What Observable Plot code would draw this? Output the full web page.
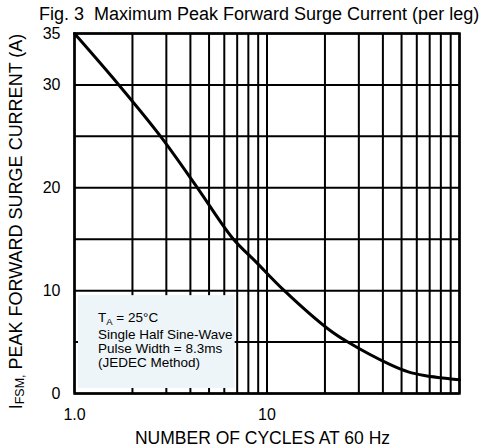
<!DOCTYPE html>
<html><head><meta charset="utf-8">
<script src="https://cdn.jsdelivr.net/npm/d3@7"></script>
<script src="https://cdn.jsdelivr.net/npm/@observablehq/plot@0.6"></script>
<style>body{margin:0;background:#fff;} svg{font-family:"Liberation Sans",Arial,sans-serif;}</style>
</head><body><div id="chart"></div>
<script>
const titleText = "Fig. 3  Maximum Peak Forward Surge Current (per leg)";
const xLabelText = "NUMBER OF CYCLES AT 60 Hz";
const cycles  = [1, 1.7, 2.8, 4.35, 6.63, 8.76, 12.3, 20.7, 26.3, 43.7, 54.2, 65.7, 100];
const current = [35, 30, 25, 20, 15.1, 12.8, 10, 6.3, 5, 2.8, 2.1, 1.75, 1.33];
const xGrid = [1, 2, 3, 4, 5, 6, 7, 8, 9, 10, 20, 30, 40, 50, 60, 70, 80, 90, 100];
const yGrid = [0, 5, 10, 15, 20, 25, 30, 35];
const xTicks = [1, 10];
const xTickLabels = ["1.0", "10"];
const yTicks = [0, 10, 20, 30, 35];
const noteBox = [{x1: 1, x2: 7, y1: 0, y2: 10}];
const noteLines = ["Single Half Sine-Wave", "Pulse Width = 8.3ms", "(JEDEC Method)"];

const data = cycles.map((c, i) => ({c, a: current[i]}));

const plot = Plot.plot({
  width: 489, height: 448,
  marginLeft: 74, marginRight: 30, marginTop: 33, marginBottom: 55,
  style: {fontFamily: "Liberation Sans, Arial, sans-serif", fontSize: "16px", color: "black", background: "white"},
  x: {type: "log", domain: [1, 100]},
  y: {domain: [0, 35]},
  marks: [
    Plot.ruleX(xGrid, {stroke: "black", strokeWidth: 2}),
    Plot.ruleY(yGrid, {stroke: "black", strokeWidth: 2}),
    Plot.rect(noteBox, {x1: "x1", x2: "x2", y1: "y1", y2: "y2", fill: "#edf5f9", insetLeft: 4, insetTop: 5, insetBottom: 5, insetRight: 2}),
    Plot.frame({stroke: "black", strokeWidth: 2.5}),
    Plot.line(data, {x: "c", y: "a", stroke: "black", strokeWidth: 3, curve: "catmull-rom"}),
    Plot.axisX(xTicks, {tickSize: 0, tickPadding: 15, tickFormat: (d) => xTickLabels[xTicks.indexOf(d)], label: null, fontSize: 16}),
    Plot.axisY(yTicks, {tickSize: 0, tickPadding: 14, label: null, fontSize: 16})
  ]
});
document.getElementById("chart").appendChild(plot);

const svg = d3.select(plot);
const sx = plot.scale("x"), sy = plot.scale("y");
svg.append("text").attr("x", 39).attr("y", 19.5).attr("text-anchor", "start").attr("font-size", 18).attr("fill", "black").text(titleText);
svg.append("text").attr("x", 262.5).attr("y", 443.5).attr("text-anchor", "middle").attr("font-size", 17.5).attr("fill", "black").text(xLabelText);
const yl = svg.append("text").attr("transform", `translate(21.5,221.5) rotate(-90)`).attr("text-anchor", "middle").attr("font-size", 18).attr("fill", "black");
yl.append("tspan").text("I");
yl.append("tspan").attr("font-size", 12.5).attr("dy", 2).text("FSM,");
yl.append("tspan").attr("dy", -2).text(" PEAK FORWARD SURGE CURRENT (A)");

const nx = sx.apply(1) + 24, ny = sy.apply(10);
const t1 = svg.append("text").attr("x", nx).attr("y", ny + 31.5).attr("text-anchor", "start").attr("font-size", 13.5).attr("fill", "black");
t1.append("tspan").text("T");
t1.append("tspan").attr("font-size", 9.5).attr("dy", 3).text("A");
t1.append("tspan").attr("dy", -3).text(" = 25°C");
noteLines.forEach((s, i) => {
  svg.append("text").attr("x", nx).attr("y", ny + [48.5, 63, 77][i]).attr("text-anchor", "start").attr("font-size", 13.5).attr("fill", "black").text(s);
});
</script></body></html>
